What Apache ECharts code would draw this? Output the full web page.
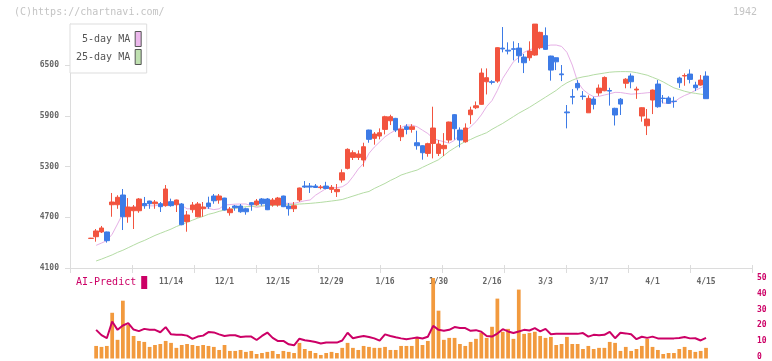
<!DOCTYPE html>
<html><head><meta charset="utf-8">
<script src="https://cdn.jsdelivr.net/npm/echarts@6/dist/echarts.min.js"></script>
<style>html,body{margin:0;padding:0;background:#fff}#c{width:772px;height:361px}</style>
</head><body><div id="c"></div>
<script>
const categories = ['10/23','10/24','10/27','10/28','10/29','10/30','10/31',
'11/4','11/5','11/6','11/7','11/10','11/11','11/12','11/13','11/14','11/17','11/18','11/19','11/20','11/21','11/25','11/26','11/27','11/28',
'12/1','12/2','12/3','12/4','12/5','12/8','12/9','12/10','12/11','12/12','12/15','12/16','12/17','12/18','12/19','12/22','12/23','12/24','12/25','12/26','12/29','12/30',
'1/5','1/6','1/7','1/8','1/9','1/13','1/14','1/15','1/16','1/19','1/20','1/21','1/22','1/23','1/26','1/27','1/28','1/29','1/30',
'2/2','2/3','2/4','2/5','2/6','2/9','2/10','2/12','2/13','2/16','2/17','2/18','2/19','2/20','2/24','2/25','2/26','2/27',
'3/2','3/3','3/4','3/5','3/6','3/9','3/10','3/11','3/12','3/13','3/16','3/17','3/18','3/19','3/23','3/24','3/25','3/26','3/27','3/30','3/31',
'4/1','4/2','4/3','4/6','4/7','4/8','4/9','4/10','4/13','4/14','4/15'];
const xTickLabels = ['11/14','12/1','12/15','12/29','1/16','1/30','2/16','3/3','3/17','4/1','4/15'];
const yTicks = [4100,4700,5300,5900,6500];
// [open, close, low, high]
const ohlc = [
[4450,4452,4445,4456],[4470,4538,4411,4561],[4526,4573,4514,4597],[4526,4423,4400,4530],[4848,4880,4706,4987],
[4848,4936,4800,4960],[4963,4706,4549,5034],[4706,4821,4635,4927],[4777,4821,4561,4845],[4777,4916,4753,4927],
[4863,4836,4800,4940],[4892,4860,4800,4895],[4860,4880,4800,4904],[4860,4825,4762,4880],[4837,5034,4825,5081],
[4884,4837,4825,4920],[4848,4904,4762,4908],[4857,4612,4605,4868],[4648,4727,4529,4774],[4789,4845,4753,4880],
[4706,4857,4700,4880],[4801,4821,4706,4880],[4868,4825,4800,4943],[4951,4895,4860,4975],[4904,4951,4860,4975],
[4927,4786,4780,4930],[4754,4797,4719,4821],[4833,4813,4777,4845],[4833,4765,4753,4857],[4801,4765,4730,4813],
[4872,4848,4777,4880],[4848,4892,4836,4916],[4916,4860,4836,4927],[4916,4789,4785,4927],[4845,4904,4825,4927],
[4845,4927,4825,4940],[4951,4825,4820,4955],[4833,4801,4719,4868],[4801,4836,4762,4880],[4904,5046,4884,5050],
[5069,5057,5046,5128],[5069,5057,4987,5105],[5069,5052,5046,5093],[5050,5058,5030,5081],[5069,5040,5030,5119],
[5030,5054,4987,5081],[5002,5030,4940,5093],[5140,5226,5110,5266],[5278,5503,5266,5515],[5408,5463,5377,5491],
[5408,5448,5377,5491],[5377,5534,5298,5581],[5731,5621,5581,5735],[5633,5684,5558,5707],[5660,5699,5621,5751],
[5739,5889,5680,5900],[5841,5889,5790,5912],[5869,5731,5707,5875],[5652,5743,5601,5790],[5770,5739,5680,5800],
[5739,5770,5700,5800],[5581,5546,5499,5723],[5546,5463,5381,5550],[5455,5570,5416,5581],[5573,5755,5396,6007],
[5455,5566,5424,5613],[5510,5550,5424,5695],[5613,5826,5581,5830],[5913,5747,5617,5920],[5731,5613,5526,5763],
[5593,5755,5581,5810],[5912,5968,5802,6007],[5995,6018,5979,6069],[6035,6405,6030,6460],[6302,6350,6152,6460],
[6302,6295,6270,6321],[6310,6705,6290,6710],[6700,6690,6650,6949],[6675,6665,6626,6768],[6692,6686,6555,6780],
[6700,6610,6527,6760],[6594,6527,6405,6630],[6586,6665,6550,6780],[6618,6984,6610,6984],[6705,6886,6686,6894],
[6847,6685,6680,6945],[6606,6440,6315,6610],[6586,6538,6440,6590],[6395,6385,6310,6500],[5945,5935,5751,6027],
[6128,6120,6035,6215],[6282,6231,6200,6321],[6133,6127,6089,6192],[5935,6106,5935,6141],[6098,6035,5975,6125],
[6170,6227,6135,6270],[6196,6353,6190,6365],[6198,6192,6020,6231],[5988,5909,5785,5995],[6096,6038,5909,6110],
[6284,6332,6225,6345],[6370,6302,6225,6400],[6205,6215,6100,6244],[5897,5995,5830,6000],[5782,5861,5672,5980],
[6086,6204,5920,6210],[6275,6007,5995,6322],[6108,6104,6046,6145],[6110,6047,6040,6130],[6072,6068,5995,6125],
[6346,6290,6230,6362],[6370,6376,6255,6401],[6393,6330,6283,6448],[6263,6231,6192,6302],[6263,6322,6255,6381],
[6369,6102,6100,6425]];
const ma5 = [null,
4368,4395,4423,4500,4620,4746,4790,4817,4835,4845,
4835,4835,4850,4865,4875,4884,4840,4800,4800,4808,
4817,4805,4790,4800,4845,4850,4855,4857,4857,4835,
4815,4830,4845,4857,4860,4865,4865,4865,4880,4895,
4904,4960,5000,5040,5050,5050,5060,5100,5180,5270,
5337,5455,5530,5590,5652,5695,5731,5760,5790,5790,
5770,5730,5690,5633,5610,5593,5575,5610,5680,5720,
5770,5830,5910,6010,6080,6200,6342,6440,6539,6590,
6650,6680,6700,6705,6725,6736,6736,6720,6650,6500,
6302,6210,6160,6125,6130,6145,6160,6177,6175,6165,
6155,6160,6165,6172,6177,6120,6050,6047,6060,6106,
6140,6165,6200,6230,6263];
const ma25 = [null,
4183,4205,4230,4255,4285,4310,4340,4370,4400,4425,
4455,4485,4510,4535,4560,4590,4615,4640,4665,4690,
4710,4735,4750,4770,4785,4795,4805,4815,4825,4828,
4831,4834,4837,4840,4843,4846,4849,4852,4856,4860,
4864,4870,4876,4884,4892,4900,4910,4930,4950,4970,
4990,5005,5040,5070,5100,5135,5165,5199,5220,5240,
5258,5290,5320,5350,5380,5430,5480,5520,5560,5595,
5620,5650,5675,5700,5740,5775,5810,5850,5890,5930,
5965,6000,6040,6080,6120,6160,6200,6250,6290,6320,
6345,6360,6370,6385,6395,6405,6415,6420,6422,6422,
6420,6410,6395,6380,6355,6330,6300,6265,6230,6210,
6190,6175,6165,6155,6150];
const predictBars = [null,
7.8,7.2,7.8,28.4,11.6,35.9,20.9,14,10.9,10.3,
7.2,8.4,9,10.9,9.7,6.6,8.4,9,8.4,7.8,
8.4,7.8,7.2,5.3,8.4,4.7,4.7,5.3,4.1,4.7,
2.8,3.4,4.1,4.7,2.8,4.7,4.1,3.4,9.7,5.9,
4.7,3.4,2.2,3.4,4.1,3.4,6.6,9.7,6.6,5.3,
7.8,7.2,6.6,6.6,7.2,5.3,5.3,7.8,7.8,7.8,
12.8,8.4,10.9,50,29.7,11.6,12.8,12.8,9,7.8,
10.3,12.2,15.9,12.8,19.7,37.2,16.6,18.4,12.2,42.8,
15.3,15.9,16.6,14,12.8,13.4,8.4,9,13.4,9,
9,5.9,7.8,5.9,6.6,6.6,10.3,9.7,4.7,7.2,
4.7,5.9,7.8,12.2,7.2,5.3,2.8,3.4,3.4,5.9,
7.2,5.3,4.1,4.7,6.6];
const predictLine = [null,
17.8,14.5,12.6,23,17.8,20.5,22,18,17,18.4,
17.8,17.8,16.3,19.5,15,14.8,14.8,14.2,12.2,13.6,
14.2,16.4,16.2,15,14,14.4,14.4,13.4,13.6,13.6,
11.5,14,16.1,12.8,10.8,10.9,8.8,8.2,12.3,11.3,
10.9,10.2,9.3,9.9,9.9,9.9,11.2,16,12.6,13.4,
14,13.4,12.5,11.1,15,14,13.2,12.5,12,12.5,
13,12.4,13.5,20.3,17.8,17.2,17.8,19.5,18.9,18.9,
17.2,17.6,16.6,14,13.6,15.5,18.2,16.8,15.8,16.8,
17.8,17.4,18.9,16.9,18.4,15.1,15.3,15.3,15.3,15.3,
15.3,15.8,13.6,14.7,14.4,14.7,16.6,12.6,16,15.6,
15,12,13.5,12.8,13.6,12.5,12.5,12.5,12.5,12.8,
13.4,12.5,12.6,11.2,12.8];

const MONO = 'DejaVu Sans Mono';
const AXC = '#dcdcdc';
const chart = echarts.init(document.getElementById('c'));
const candleLeft = 88.1, candleWidth = 620.6;
chart.setOption({
  animation: false,
  backgroundColor: '#fff',
  title: [
    {text: '(C)https://chartnavi.com/', left: 14, top: 7, padding: 0,
     textStyle: {fontFamily: MONO, fontSize: 10, fontWeight: 'normal', color: '#c4c4c4'}},
    {text: '1942', right: 15, top: 7, padding: 0,
     textStyle: {fontFamily: MONO, fontSize: 10, fontWeight: 'normal', color: '#c4c4c4'}}
  ],
  legend: [
    {data: [
      {name: '5-day MA', itemStyle: {color: '#ecb8ec', borderColor: '#555', borderWidth: 1}},
      {name: '25-day MA', itemStyle: {color: '#bfe0b0', borderColor: '#555', borderWidth: 1}}],
     orient: 'vertical', left: 70, top: 24, align: 'right', icon: 'rect',
     itemWidth: 6, itemHeight: 15, itemGap: 2, padding: [7, 5, 8, 6],
     borderColor: '#dddddd', borderWidth: 1, backgroundColor: '#fff', selectedMode: false,
     formatter: n => (n === '5-day MA' ? ' ' + n : n),
     textStyle: {fontFamily: MONO, fontSize: 10, color: '#555'}},
    {data: [{name: 'AI-Predict', itemStyle: {color: '#cc0066'}}],
     left: 76, top: 276, align: 'right', icon: 'rect', itemWidth: 6, itemHeight: 13,
     padding: 0, selectedMode: false,
     textStyle: {fontFamily: MONO, fontSize: 10, color: '#cc0066'}}
  ],
  grid: [
    {left: candleLeft, width: candleWidth, top: 24, height: 244},
    {left: 70, width: 682, top: 24, height: 244},
    {left: candleLeft, width: candleWidth, top: 278, height: 80.5},
    {left: 70, width: 682, top: 278, height: 80.5}
  ],
  xAxis: [
    {gridIndex: 0, type: 'category', data: categories, boundaryGap: true,
     axisLine: {show: false}, axisTick: {show: false}, splitLine: {show: false},
     axisLabel: {interval: (i, v) => xTickLabels.includes(v), margin: 10,
       fontFamily: MONO, fontSize: 8, fontWeight: 'bold', color: '#666'}},
    {gridIndex: 1, type: 'value', min: 0, max: 11, interval: 1, position: 'bottom',
     axisLine: {show: true, lineStyle: {color: AXC}},
     axisTick: {show: true, length: 5, lineStyle: {color: AXC}},
     axisLabel: {show: false}, splitLine: {show: false}},
    {gridIndex: 1, type: 'value', min: 0, max: 11, interval: 1, position: 'bottom', offset: 0,
     axisLine: {show: false},
     axisTick: {show: true, inside: true, length: 3, lineStyle: {color: AXC}},
     axisLabel: {show: false}, splitLine: {show: false}},
    {gridIndex: 2, type: 'category', data: categories, boundaryGap: true, show: false},
    {gridIndex: 3, type: 'value', min: 0, max: 1, show: false}
  ],
  yAxis: [
    {gridIndex: 0, type: 'value', min: 4100, max: 6985, show: false},
    {gridIndex: 1, type: 'value', min: 4100, max: 6985,
     axisLine: {show: true, lineStyle: {color: AXC}},
     axisTick: {show: true, length: 5, customValues: yTicks, lineStyle: {color: AXC}},
     axisLabel: {customValues: yTicks, margin: 11, fontFamily: MONO, fontSize: 8,
       fontWeight: 'bold', color: '#666', formatter: v => String(v)},
     splitLine: {show: false}},
    {gridIndex: 2, type: 'value', min: 0, max: 50, show: false},
    {gridIndex: 3, type: 'value', min: 0, max: 50, interval: 10, position: 'right',
     axisLine: {show: false}, axisTick: {show: false}, splitLine: {show: false},
     axisLabel: {margin: 5, fontFamily: MONO, fontSize: 8, fontWeight: 'bold', color: '#cc0066'}}
  ],
  series: [
    {name: '5-day MA', type: 'line', xAxisIndex: 0, yAxisIndex: 0, data: ma5,
     showSymbol: false, z: 1, lineStyle: {width: 1, color: '#e6b0e6'}, itemStyle: {color: '#e6b0e6'}},
    {name: '25-day MA', type: 'line', xAxisIndex: 0, yAxisIndex: 0, data: ma25,
     showSymbol: false, z: 1, lineStyle: {width: 1, color: '#b4dca4'}, itemStyle: {color: '#b4dca4'}},
    {name: 'price', type: 'candlestick', xAxisIndex: 0, yAxisIndex: 0, data: ohlc, z: 3,
     barWidth: 5,
     itemStyle: {color: '#f2543f', color0: '#3d7be6', borderColor: '#f2543f',
       borderColor0: '#3d7be6', borderColorDoji: '#f2543f', borderWidth: 1}},
    {name: 'bars', type: 'bar', xAxisIndex: 3, yAxisIndex: 2, data: predictBars,
     barWidth: '70%', itemStyle: {color: '#f29a3e'}, z: 1},
    {name: 'AI-Predict', type: 'line', xAxisIndex: 3, yAxisIndex: 2, data: predictLine,
     showSymbol: false, z: 3, lineStyle: {width: 2, color: '#cc0066'}, itemStyle: {color: '#cc0066'}}
  ]
});
</script></body></html>
